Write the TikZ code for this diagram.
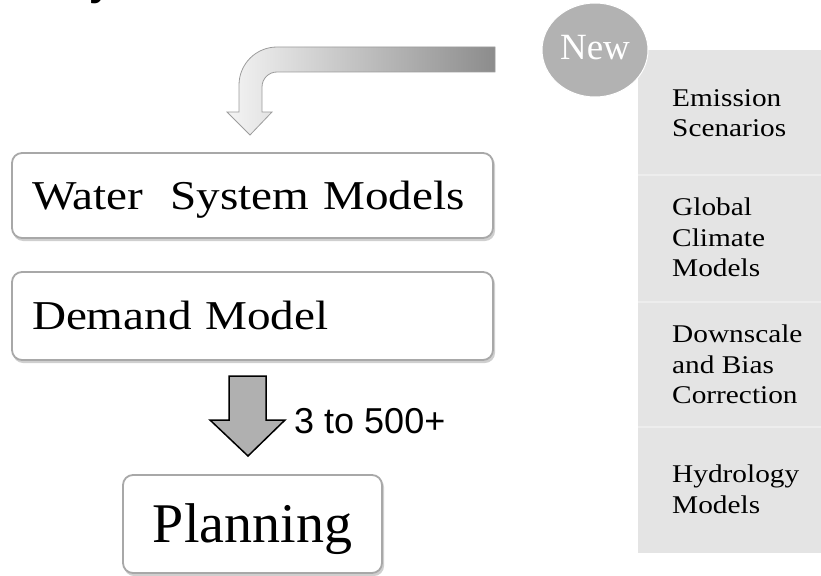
\documentclass[tikz,border=0pt]{standalone}
\usepackage{fontspec}
\setmainfont{Liberation Serif}
\newfontfamily\boxfont[FakeStretch=1.15]{Liberation Serif}
\newfontfamily\labfont{Liberation Sans}
\usetikzlibrary{shapes.geometric}
\definecolor{boxline}{HTML}{A8A8A8}
\definecolor{boxshadow}{HTML}{CFCFCF}
\definecolor{panelgray}{HTML}{E4E4E4}
\definecolor{sepgray}{HTML}{EDEDED}
\definecolor{newgray}{HTML}{B2B2B2}
\definecolor{arrowgray}{HTML}{B0B0B0}
\definecolor{curvelight}{HTML}{F4F4F4}
\definecolor{curvedark}{HTML}{8C8C8C}
\definecolor{curveline}{HTML}{9C9C9C}
\tikzset{
  modelbox/.style={draw=boxline, line width=1.8pt, fill=white, rounded corners=10pt,
    inner xsep=20pt, inner ysep=0pt, align=left, text width=441pt,
    font=\boxfont\fontsize{41}{48}\selectfont, text height=27pt, text depth=0pt},
  planbox/.style={draw=boxline, line width=1.8pt, fill=white, rounded corners=10pt,
    inner sep=0pt, minimum width=259pt, minimum height=98pt,
    font=\fontsize{56}{60}\selectfont, text height=36pt, text depth=0pt},
  paneltext/.style={anchor=north west, inner sep=0pt, align=left,
    font=\boxfont\fontsize{25.5}{30.5}\selectfont, text=black},
  newcirc/.style={ellipse, fill=newgray, draw=white, line width=1pt, inner sep=0pt,
    minimum width=106pt, minimum height=94pt},
  sepline/.style={draw=sepgray, line width=1.5pt},
  blockarrow/.style={fill=arrowgray, draw=black, line width=1.5pt, line join=miter},
  curvearrow/.style={left color=curvelight, right color=curvedark, draw=curveline, line width=0.8pt},
}
\begin{document}
\begin{tikzpicture}[x=1pt,y=-1pt]
\useasboundingbox (0,0) rectangle (821,575);

% cut-off title fragment
\node[anchor=base west, inner sep=0pt, font=\labfont\bfseries\fontsize{40}{40}\selectfont] (ttl) at (89,-4) {y};

% right-hand panel
\fill[panelgray] (638,50) rectangle (821,553);
\draw[sepline] (638,175) -- (821,175);
\draw[sepline] (638,302) -- (821,302);
\draw[sepline] (638,427) -- (821,427);
\node[paneltext] (emis) at (672,89) {Emission\\Scenarios};
\node[paneltext] (gcm) at (672,198) {Global\\Climate\\Models};
\node[paneltext] (down) at (672,325) {Downscale\\and Bias\\Correction};
\node[paneltext] (hydro) at (672,465) {Hydrology\\Models};

% "New" badge
\node[newcirc] (new) at (595,50) {};
\node[anchor=base, inner sep=0pt, text=white, font=\fontsize{37}{40}\selectfont] (newtxt) at (595,60) {New};

% curved arrow
\shadedraw[curvearrow] (495,47) -- (277,47) .. controls (256,47) and (239,64) .. (239,85)
  -- (239,112) -- (227,112) -- (250,135) -- (272,112) -- (262,112) -- (262,87)
  .. controls (262,78.7) and (268.7,72) .. (277,72) -- (495,72) -- cycle;

% left boxes (with faint shadow)
\fill[boxshadow, rounded corners=10pt] (13,155) rectangle (495,241);
\node[modelbox, minimum height=85pt] (wsm) at (252.5,195.5) {Water\ \ System Models};
\fill[boxshadow, rounded corners=10pt] (13,274) rectangle (495,363);
\node[modelbox, minimum height=88pt] (dem) at (252.5,316) {Demand Model};
\fill[boxshadow, rounded corners=10pt] (124,477) rectangle (384,576);
\node[planbox] (plan) at (252.5,524) {Planning};

% block arrow
\draw[blockarrow] (229,376) -- (266,376) -- (266,420) -- (285,420) -- (248,456)
  -- (210,420) -- (229,420) -- cycle;
\node[anchor=base west, inner sep=0pt, font=\labfont\fontsize{36}{40}\selectfont] (count) at (294,433) {3 to 500+};
\end{tikzpicture}
\end{document}
